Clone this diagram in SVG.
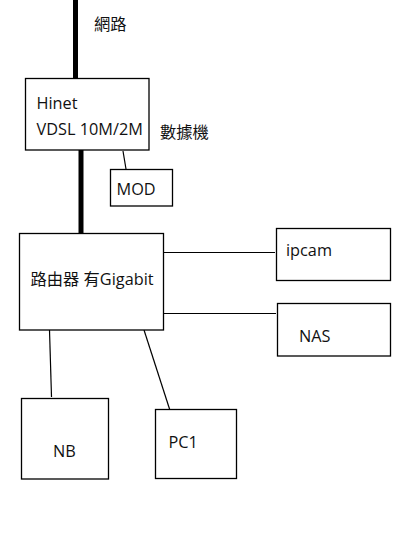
<svg xmlns="http://www.w3.org/2000/svg" width="404" height="557" viewBox="0 0 404 557">
<style>
.box{fill:#fff;stroke:#000;stroke-width:1.3}
.thin{stroke:#000;stroke-width:1.2;fill:none}
.thick{stroke:#000;stroke-width:5;fill:none}
text{font-family:"Open Sans","Noto Sans CJK TC",sans-serif;font-size:16.3px;fill:#111}
</style>
<rect width="404" height="557" fill="#fff"/>
<g id="connectors">
<line class="thick" x1="75.5" y1="0" x2="75.5" y2="80"/>
<line class="thick" x1="81" y1="150" x2="81" y2="233"/>
<line class="thin" x1="123" y1="151" x2="126" y2="169"/>
<line class="thin" x1="163" y1="252.5" x2="275" y2="252.5"/>
<line class="thin" x1="162" y1="313.5" x2="276" y2="313.5"/>
<line class="thin" x1="49.5" y1="330" x2="51.5" y2="397"/>
<line class="thin" x1="144" y1="330" x2="170.5" y2="412"/>
</g>
<text id="label-net" x="94" y="30">網路</text>
<g id="hinet">
<rect class="box" x="25.5" y="78.5" width="123.5" height="71.5"/>
<text x="36.5" y="109">Hinet</text>
<text x="36.5" y="134.5">VDSL 10M/2M</text>
</g>
<text id="label-modem" x="160" y="138">數據機</text>
<g id="mod">
<rect class="box" x="110.5" y="169.5" width="62" height="36.5"/>
<text x="116.5" y="195">MOD</text>
</g>
<g id="router">
<rect class="box" x="19.5" y="233.5" width="144" height="96.5"/>
<text x="30.5" y="284.5">路由器 有Gigabit</text>
</g>
<g id="ipcam">
<rect class="box" x="276.5" y="228.5" width="114" height="52"/>
<text x="286" y="256">ipcam</text>
</g>
<g id="nas">
<rect class="box" x="277.5" y="303.5" width="113" height="52.5"/>
<text x="299" y="342">NAS</text>
</g>
<g id="nb">
<rect class="box" x="21.5" y="398.5" width="87" height="80.5"/>
<text x="53" y="457">NB</text>
</g>
<g id="pc1">
<rect class="box" x="155.5" y="409.5" width="81" height="69"/>
<text x="168.5" y="448">PC1</text>
</g>
</svg>
